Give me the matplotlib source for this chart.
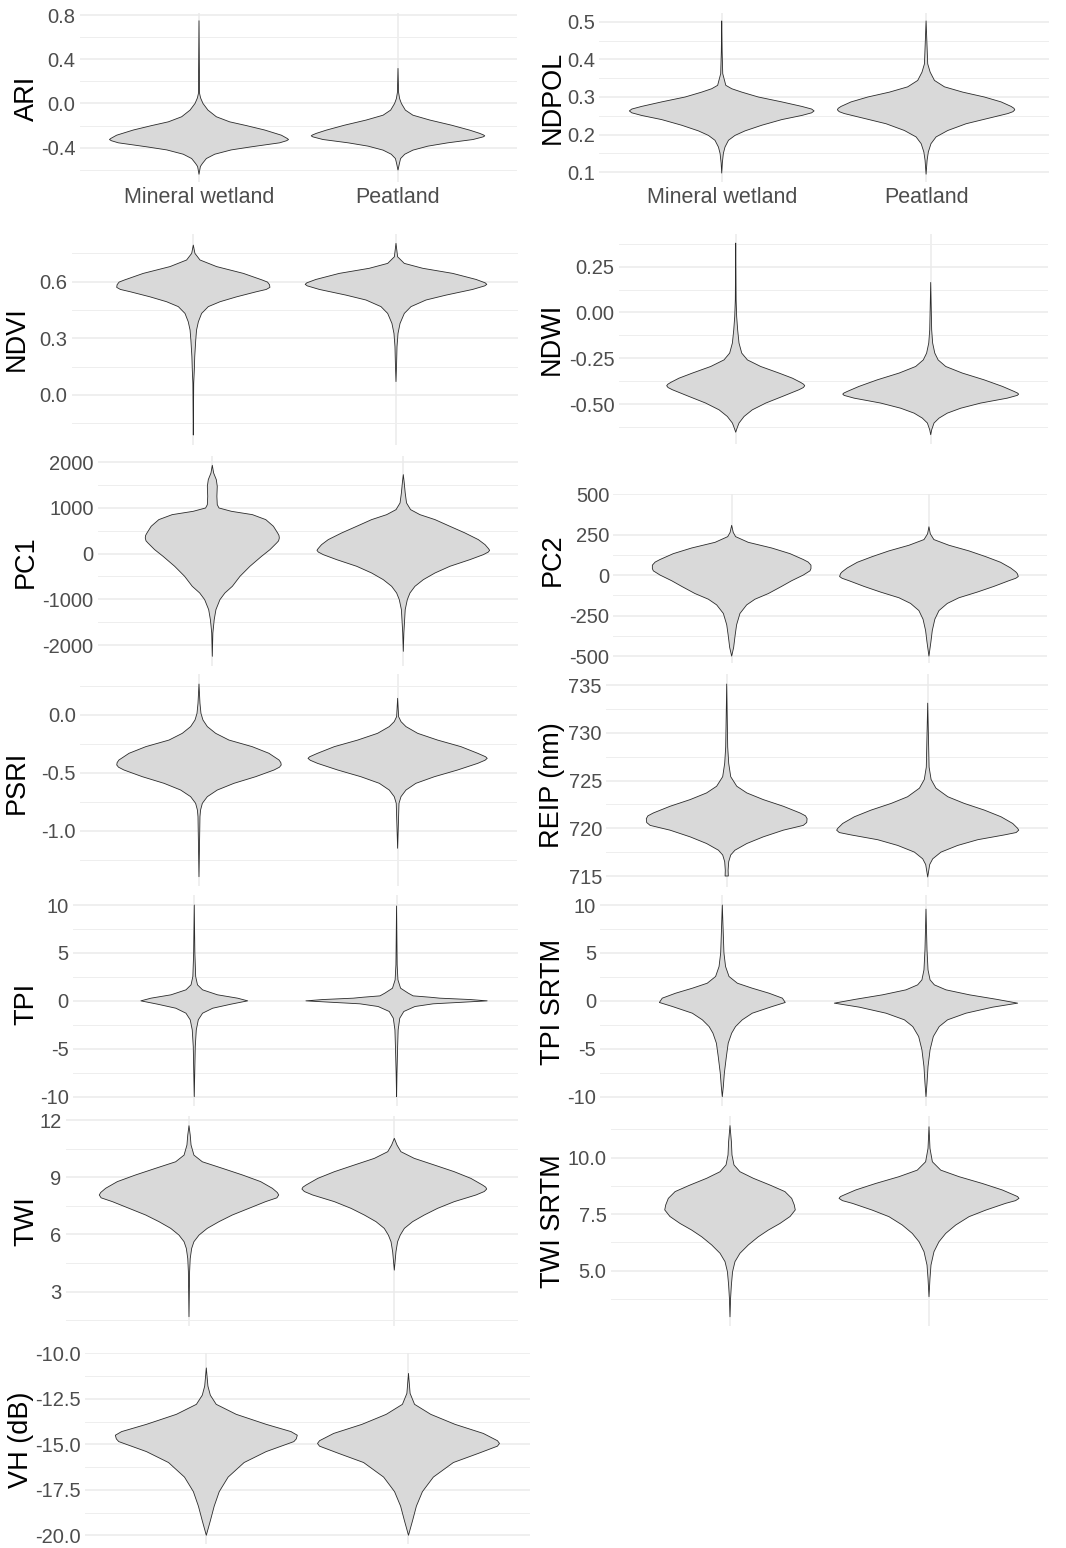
import matplotlib
matplotlib.use("Agg")
import matplotlib.pyplot as plt

plt.rcParams['font.family'] = ['Liberation Sans', 'DejaVu Sans']

categories = ["Mineral wetland", "Peatland"]

# ---------------- violin outlines ----------------
# *_v : value levels, *_w : half-width of the violin at that level (x units)
ari_min_v = [0.748, 0.09, 0.05, 0.0, -0.06, -0.12, -0.166, -0.2, -0.24, -0.287, -0.315, -0.326, -0.337, -0.356, -0.392, -0.42, -0.459, -0.498, -0.543, -0.57, -0.64]
ari_min_w = [0.0, 0.003, 0.008, 0.020, 0.045, 0.087, 0.154, 0.238, 0.330, 0.414, 0.442, 0.450, 0.440, 0.405, 0.263, 0.162, 0.079, 0.037, 0.017, 0.007, 0.0]
ari_peat_v = [0.317, 0.1, 0.045, 0.0, -0.06, -0.106, -0.15, -0.196, -0.241, -0.27, -0.285, -0.293, -0.302, -0.326, -0.356, -0.386, -0.422, -0.459, -0.498, -0.543, -0.603]
ari_peat_w = [0.0, 0.003, 0.008, 0.017, 0.037, 0.075, 0.16, 0.268, 0.36, 0.41, 0.430, 0.436, 0.428, 0.377, 0.25, 0.15, 0.075, 0.034, 0.013, 0.007, 0.0]

ndpol_min_v = [0.502, 0.42, 0.362, 0.331, 0.322, 0.313, 0.3, 0.287, 0.275, 0.268, 0.263, 0.258, 0.251, 0.24, 0.225, 0.21, 0.198, 0.185, 0.167, 0.15, 0.125, 0.098]
ndpol_min_w = [0.0, 0.002, 0.005, 0.020, 0.049, 0.098, 0.179, 0.294, 0.392, 0.440, 0.452, 0.440, 0.392, 0.294, 0.196, 0.114, 0.065, 0.033, 0.016, 0.008, 0.003, 0.0]
ndpol_peat_v = [0.502, 0.388, 0.366, 0.344, 0.327, 0.313, 0.3, 0.287, 0.275, 0.270, 0.266, 0.261, 0.256, 0.242, 0.229, 0.211, 0.194, 0.176, 0.154, 0.132, 0.095]
ndpol_peat_w = [0.0, 0.008, 0.020, 0.041, 0.090, 0.179, 0.285, 0.367, 0.416, 0.430, 0.434, 0.425, 0.400, 0.294, 0.196, 0.106, 0.049, 0.024, 0.011, 0.005, 0.0]

ndvi_min_v = [0.794, 0.75, 0.715, 0.68, 0.644, 0.609, 0.598, 0.584, 0.57, 0.559, 0.547, 0.52, 0.494, 0.468, 0.432, 0.388, 0.344, 0.291, 0.203, 0.132, 0.062, -0.212]
ndvi_min_w = [0.0, 0.008, 0.033, 0.115, 0.247, 0.340, 0.366, 0.376, 0.378, 0.360, 0.312, 0.214, 0.132, 0.074, 0.041, 0.025, 0.016, 0.012, 0.007, 0.005, 0.002, 0.0]
ndvi_peat_v = [0.803, 0.732, 0.697, 0.671, 0.644, 0.612, 0.594, 0.586, 0.578, 0.559, 0.529, 0.503, 0.468, 0.432, 0.379, 0.326, 0.256, 0.168, 0.071]
ndvi_peat_w = [0.0, 0.008, 0.041, 0.132, 0.280, 0.395, 0.440, 0.448, 0.438, 0.378, 0.247, 0.148, 0.074, 0.041, 0.020, 0.010, 0.005, 0.003, 0.0]

ndwi_min_v = [0.379, 0.069, -0.022, -0.095, -0.167, -0.222, -0.259, -0.295, -0.331, -0.359, -0.382, -0.392, -0.40, -0.41, -0.422, -0.459, -0.495, -0.532, -0.568, -0.604, -0.632, -0.654]
ndwi_min_w = [0.0, 0.002, 0.005, 0.010, 0.017, 0.031, 0.060, 0.128, 0.222, 0.291, 0.333, 0.348, 0.354, 0.347, 0.325, 0.239, 0.154, 0.085, 0.043, 0.017, 0.007, 0.0]
ndwi_peat_v = [0.164, -0.095, -0.167, -0.222, -0.259, -0.295, -0.331, -0.368, -0.404, -0.431, -0.440, -0.446, -0.453, -0.468, -0.495, -0.523, -0.55, -0.577, -0.604, -0.641, -0.668]
ndwi_peat_w = [0.0, 0.005, 0.010, 0.021, 0.038, 0.077, 0.162, 0.274, 0.368, 0.427, 0.445, 0.451, 0.444, 0.393, 0.256, 0.154, 0.085, 0.043, 0.017, 0.005, 0.0]

pc1_min_v = [1934, 1766, 1620, 1474, 1255, 1073, 1000, 927, 854, 745, 599, 453, 400, 343, 280, 234, 88, -58, -277, -496, -715, -861, -1007, -1226, -1445, -1737, -2248]
pc1_min_w = [0.0, 0.007, 0.021, 0.026, 0.024, 0.026, 0.035, 0.10, 0.21, 0.28, 0.32, 0.342, 0.349, 0.351, 0.347, 0.337, 0.302, 0.258, 0.197, 0.145, 0.105, 0.066, 0.040, 0.019, 0.010, 0.003, 0.0]
pc1_peat_v = [1730, 1548, 1329, 1110, 964, 854, 745, 599, 453, 307, 197, 110, 73, 35, -22, -131, -277, -423, -569, -715, -861, -1007, -1226, -1445, -1737, -2139]
pc1_peat_w = [0.0, 0.005, 0.010, 0.017, 0.038, 0.087, 0.166, 0.244, 0.323, 0.393, 0.428, 0.446, 0.452, 0.445, 0.419, 0.349, 0.244, 0.166, 0.105, 0.061, 0.035, 0.021, 0.010, 0.007, 0.003, 0.0]

pc2_min_v = [307, 263, 237, 202, 167, 132, 96, 80, 61, 40, 26, 0, -35, -70, -114, -149, -184, -237, -307, -377, -447, -500]
pc2_min_w = [0.0, 0.008, 0.020, 0.084, 0.203, 0.296, 0.363, 0.388, 0.402, 0.402, 0.397, 0.363, 0.304, 0.253, 0.186, 0.118, 0.076, 0.042, 0.025, 0.017, 0.010, 0.0]
pc2_peat_v = [298, 254, 219, 184, 149, 114, 79, 44, 20, 9, -9, -20, -35, -70, -105, -140, -175, -219, -272, -342, -412, -500]
pc2_peat_w = [0.0, 0.007, 0.025, 0.101, 0.203, 0.287, 0.363, 0.414, 0.440, 0.448, 0.453, 0.440, 0.405, 0.329, 0.245, 0.152, 0.093, 0.051, 0.030, 0.017, 0.010, 0.0]

psri_min_v = [0.267, 0.1, 0.014, -0.043, -0.1, -0.158, -0.216, -0.273, -0.33, -0.388, -0.41, -0.431, -0.45, -0.474, -0.532, -0.589, -0.647, -0.704, -0.761, -0.819, -0.876, -1.394]
psri_min_w = [0.0, 0.005, 0.010, 0.020, 0.042, 0.084, 0.151, 0.268, 0.352, 0.403, 0.412, 0.414, 0.405, 0.378, 0.285, 0.176, 0.092, 0.042, 0.017, 0.008, 0.005, 0.0]
psri_peat_v = [0.144, -0.014, -0.057, -0.1, -0.158, -0.216, -0.273, -0.33, -0.36, -0.374, -0.39, -0.417, -0.474, -0.532, -0.589, -0.647, -0.704, -0.761, -1.149]
psri_peat_w = [0.0, 0.005, 0.017, 0.042, 0.101, 0.201, 0.319, 0.403, 0.443, 0.451, 0.440, 0.403, 0.302, 0.185, 0.092, 0.042, 0.017, 0.007, 0.0]

reip_min_v = [735.1, 728.5, 726.8, 725.4, 724.4, 723.7, 723.0, 722.3, 721.6, 721.3, 721.0, 720.6, 720.3, 719.8, 719.1, 718.4, 717.7, 717.2, 716.5, 715.6, 715.0]
reip_min_w = [0.0, 0.005, 0.010, 0.020, 0.050, 0.100, 0.182, 0.282, 0.365, 0.392, 0.400, 0.398, 0.381, 0.282, 0.182, 0.100, 0.041, 0.020, 0.010, 0.007, 0.008]
reip_peat_v = [733.1, 726.4, 725.1, 724.2, 723.3, 722.6, 721.9, 721.2, 720.5, 720.0, 719.8, 719.55, 719.3, 718.8, 718.2, 717.5, 716.8, 716.2, 714.9]
reip_peat_w = [0.0, 0.007, 0.017, 0.041, 0.100, 0.182, 0.282, 0.365, 0.423, 0.447, 0.453, 0.440, 0.381, 0.249, 0.149, 0.066, 0.025, 0.010, 0.0]

tpi_min_v = [10.0, 5.0, 2.54, 1.67, 1.15, 0.63, 0.28, 0.0, -0.35, -0.77, -1.29, -1.98, -3.03, -4.77, -6.85, -10.0]
tpi_min_w = [0.0, 0.003, 0.007, 0.016, 0.041, 0.115, 0.214, 0.264, 0.181, 0.091, 0.041, 0.020, 0.010, 0.005, 0.003, 0.0]
tpi_peat_v = [9.9, 3.76, 2.19, 1.32, 0.8, 0.52, 0.38, 0.28, 0.14, 0.0, -0.14, -0.31, -0.59, -1.11, -1.81, -3.03, -5.11, -7.55, -10.0]
tpi_peat_w = [0.0, 0.003, 0.007, 0.020, 0.058, 0.082, 0.165, 0.214, 0.362, 0.448, 0.330, 0.181, 0.091, 0.036, 0.016, 0.008, 0.005, 0.002, 0.0]

tpis_min_v = [10.0, 8.1, 5.0, 3.58, 2.54, 1.84, 1.32, 0.8, 0.28, -0.17, -0.59, -1.29, -1.98, -2.68, -3.37, -4.42, -5.81, -7.55, -8.94, -10.0]
tpis_min_w = [0.0, 0.003, 0.008, 0.016, 0.033, 0.074, 0.147, 0.229, 0.295, 0.309, 0.245, 0.147, 0.098, 0.065, 0.046, 0.029, 0.020, 0.010, 0.005, 0.0]
tpis_peat_v = [9.57, 5.32, 3.23, 2.19, 1.67, 1.15, 0.63, 0.17, -0.24, -0.66, -1.29, -1.98, -2.68, -3.72, -5.11, -6.85, -8.59, -10.0]
tpis_peat_w = [0.0, 0.005, 0.010, 0.020, 0.041, 0.098, 0.213, 0.344, 0.450, 0.327, 0.196, 0.106, 0.065, 0.036, 0.020, 0.010, 0.005, 0.0]

twi_min_v = [11.7, 11.21, 10.69, 10.16, 9.81, 9.47, 9.12, 8.77, 8.42, 8.2, 8.07, 7.92, 7.72, 7.37, 7.02, 6.67, 6.32, 5.97, 5.62, 5.27, 4.74, 4.05, 1.69]
twi_min_w = [0.0, 0.006, 0.010, 0.024, 0.065, 0.162, 0.260, 0.349, 0.406, 0.430, 0.437, 0.428, 0.373, 0.292, 0.211, 0.146, 0.089, 0.049, 0.024, 0.013, 0.006, 0.003, 0.0]
twi_peat_v = [11.04, 10.69, 10.34, 9.99, 9.64, 9.29, 8.94, 8.59, 8.48, 8.38, 8.25, 8.07, 7.72, 7.37, 7.02, 6.67, 6.32, 5.97, 5.62, 5.09, 4.13]
twi_peat_w = [0.0, 0.013, 0.032, 0.097, 0.195, 0.292, 0.373, 0.430, 0.445, 0.450, 0.438, 0.398, 0.292, 0.211, 0.146, 0.089, 0.049, 0.029, 0.016, 0.008, 0.0]

twis_min_v = [11.42, 10.71, 10.12, 9.68, 9.38, 9.09, 8.79, 8.5, 8.2, 7.91, 7.69, 7.4, 7.09, 6.8, 6.5, 6.14, 5.77, 5.4, 4.96, 4.37, 3.78, 2.96]
twis_min_w = [0.0, 0.007, 0.010, 0.020, 0.050, 0.117, 0.201, 0.276, 0.310, 0.323, 0.328, 0.302, 0.251, 0.193, 0.142, 0.092, 0.050, 0.025, 0.013, 0.007, 0.003, 0.0]
twis_peat_v = [11.37, 10.41, 9.82, 9.45, 9.16, 8.86, 8.57, 8.35, 8.28, 8.2, 8.1, 7.98, 7.68, 7.39, 7.02, 6.65, 6.28, 5.84, 5.25, 4.66, 3.85]
twis_peat_w = [0.0, 0.005, 0.017, 0.059, 0.151, 0.268, 0.369, 0.427, 0.445, 0.452, 0.435, 0.385, 0.285, 0.201, 0.134, 0.084, 0.050, 0.025, 0.010, 0.005, 0.0]

vh_min_v = [-10.8, -11.8, -12.3, -12.8, -13.35, -13.9, -14.3, -14.5, -14.7, -14.85, -15.4, -16.0, -16.8, -17.6, -18.4, -19.2, -20.0]
vh_min_w = [0.0, 0.008, 0.020, 0.049, 0.148, 0.296, 0.419, 0.450, 0.445, 0.433, 0.296, 0.187, 0.108, 0.064, 0.039, 0.020, 0.0]
vh_peat_v = [-11.1, -12.2, -12.8, -13.35, -13.9, -14.4, -14.8, -14.95, -15.1, -15.5, -16.0, -16.8, -17.6, -18.4, -19.2, -20.0]
vh_peat_w = [0.0, 0.008, 0.030, 0.110, 0.230, 0.370, 0.440, 0.450, 0.440, 0.345, 0.222, 0.123, 0.069, 0.039, 0.020, 0.0]

# ---------------- axis titles and ticks ----------------
titles = ["ARI", "NDPOL", "NDVI", "NDWI", "PC1", "PC2", "PSRI", "REIP (nm)",
          "TPI", "TPI SRTM", "TWI", "TWI SRTM", "VH (dB)"]
tick_labels = [
    ["-0.4", "0.0", "0.4", "0.8"],
    ["0.1", "0.2", "0.3", "0.4", "0.5"],
    ["0.0", "0.3", "0.6"],
    ["-0.50", "-0.25", "0.00", "0.25"],
    ["-2000", "-1000", "0", "1000", "2000"],
    ["-500", "-250", "0", "250", "500"],
    ["-1.0", "-0.5", "0.0"],
    ["715", "720", "725", "730", "735"],
    ["-10", "-5", "0", "5", "10"],
    ["-10", "-5", "0", "5", "10"],
    ["3", "6", "9", "12"],
    ["5.0", "7.5", "10.0"],
    ["-20.0", "-17.5", "-15.0", "-12.5", "-10.0"],
]

violins = [
    (ari_min_v, ari_min_w, ari_peat_v, ari_peat_w),
    (ndpol_min_v, ndpol_min_w, ndpol_peat_v, ndpol_peat_w),
    (ndvi_min_v, ndvi_min_w, ndvi_peat_v, ndvi_peat_w),
    (ndwi_min_v, ndwi_min_w, ndwi_peat_v, ndwi_peat_w),
    (pc1_min_v, pc1_min_w, pc1_peat_v, pc1_peat_w),
    (pc2_min_v, pc2_min_w, pc2_peat_v, pc2_peat_w),
    (psri_min_v, psri_min_w, psri_peat_v, psri_peat_w),
    (reip_min_v, reip_min_w, reip_peat_v, reip_peat_w),
    (tpi_min_v, tpi_min_w, tpi_peat_v, tpi_peat_w),
    (tpis_min_v, tpis_min_w, tpis_peat_v, tpis_peat_w),
    (twi_min_v, twi_min_w, twi_peat_v, twi_peat_w),
    (twis_min_v, twis_min_w, twis_peat_v, twis_peat_w),
    (vh_min_v, vh_min_w, vh_peat_v, vh_peat_w),
]

# ---------------- layout (pixels of the 1066x1548 canvas) ----------------
W, H = 1066, 1548
# x0, x1 of panel; two (value, pixel-y) pairs fixing the vertical scale; title centre
layout = [
    (79.6, 517.4, (0.8, 15.0), (-0.4, 147.7), (27, 98)),
    (599.1, 1048.7, (0.5, 21.7), (0.1, 172.3), (553, 97)),
    (71.7, 517.6, (0.6, 281.7), (0.0, 395.0), (17, 339)),
    (618.7, 1047.7, (0.25, 266.7), (-0.5, 404.0), (552, 339)),
    (97.7, 517.9, (2000, 462.3), (-2000, 645.0), (26, 562)),
    (613.3, 1047.3, (500, 465.0), (-500, 655.0), (553, 560)),
    (79.8, 516.8, (0.0, 715.0), (-1.0, 831.0), (17, 782)),
    (606.1, 1048.3, (735, 685.0), (715, 876.0), (552, 785)),
    (72.9, 517.9, (10, 905.0), (-10, 1096.7), (26, 1004)),
    (600.1, 1048.2, (10, 905.0), (-10, 1096.7), (553, 1002)),
    (65.8, 517.5, (12, 1120.0), (3, 1291.7), (26, 1221)),
    (610.6, 1048.4, (10, 1157.7), (5, 1270.7), (553, 1221)),
    (85.0, 529.8, (-10, 1347.0), (-20, 1535.0), (21, 1440)),
]

fig = plt.figure(figsize=(W / 100, H / 100), dpi=100)
fig.patch.set_facecolor("white")

for k in range(len(titles)):
    x0, x1, (va, pa), (vb, pb), (tx, ty) = layout[k]
    mv, mw, pv, pw = violins[k]
    lo = min(min(mv), min(pv))
    hi = max(max(mv), max(pv))
    ext = 0.05 * (hi - lo)
    ylo, yhi = lo - ext, hi + ext

    def px(v):
        return pa + (v - va) * (pb - pa) / (vb - va)

    ptop, pbot = px(yhi), px(ylo)
    ax = fig.add_axes([x0 / W, 1 - pbot / H, (x1 - x0) / W, (pbot - ptop) / H])
    ax.set_xlim(0.4, 2.6)
    ax.set_ylim(ylo, yhi)

    for i, (vals, wid) in enumerate([(mv, mw), (pv, pw)]):
        c = i + 1
        xs = [c - w for w in wid] + [c + w for w in wid[::-1]]
        ys = list(vals) + list(vals[::-1])
        ax.fill(xs, ys, facecolor="#D9D9D9", edgecolor="#2B2B2B",
                linewidth=0.6, zorder=3, joinstyle="round")

    labs = tick_labels[k]
    ticks = [float(s) for s in labs]
    step = ticks[1] - ticks[0]
    minors = [t + step / 2 for t in [ticks[0] - step] + ticks]
    minors = [m for m in minors if ylo <= m <= yhi]
    ax.set_yticks(ticks)
    ax.set_yticklabels(labs)
    ax.set_yticks(minors, minor=True)
    ax.set_xticks([1, 2])
    if k < 2:
        ax.set_xticklabels(categories, fontsize=15.5, color="#4D4D4D")
    else:
        ax.set_xticklabels(["", ""])
    ax.grid(which="major", axis="both", color="#EBEBEB", linewidth=1.1, zorder=0)
    ax.grid(which="minor", axis="y", color="#EEEEEE", linewidth=0.7, zorder=0)
    ax.tick_params(axis="both", which="both", length=0)
    ax.tick_params(axis="y", labelsize=14.5, labelcolor="#4D4D4D", pad=3)
    ax.tick_params(axis="x", pad=4)
    for s in ax.spines.values():
        s.set_visible(False)
    ax.set_facecolor("none")
    ax.set_axisbelow(True)

    fig.text(tx / W, 1 - ty / H, titles[k], rotation=90, ha="center",
             va="center", fontsize=19.5, color="black")

fig.savefig("out.png", dpi=100, facecolor="white")
